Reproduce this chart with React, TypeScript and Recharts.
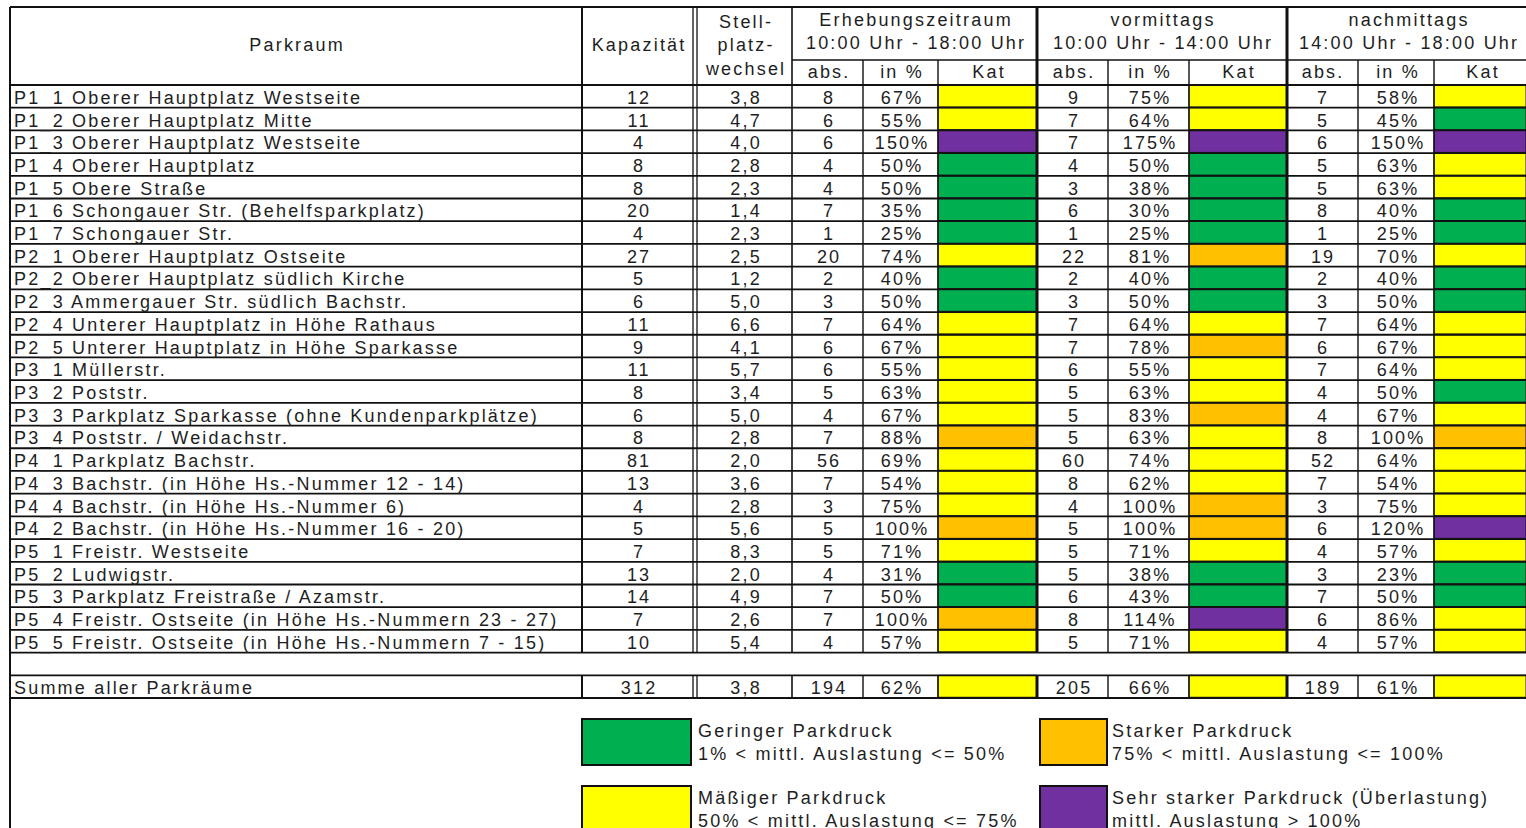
import React from 'react';
import { ComposedChart, Bar, XAxis, YAxis, Cell, Legend } from 'recharts';

const W = 1526;
const H = 828;
const FONT = '"Liberation Sans", Arial, Helvetica, sans-serif';
const FS = 18;
const LS = 2.2;
const INK = '#1e1e1e';
const LINE = '#111';

// ---------- data ----------
const parkraum = [
  'P1_1 Oberer Hauptplatz Westseite',
  'P1_2 Oberer Hauptplatz Mitte',
  'P1_3 Oberer Hauptplatz Westseite',
  'P1_4 Oberer Hauptplatz',
  'P1_5 Obere Straße',
  'P1_6 Schongauer Str. (Behelfsparkplatz)',
  'P1_7 Schongauer Str.',
  'P2_1 Oberer Hauptplatz Ostseite',
  'P2_2 Oberer Hauptplatz südlich Kirche',
  'P2_3 Ammergauer Str. südlich Bachstr.',
  'P2_4 Unterer Hauptplatz in Höhe Rathaus',
  'P2_5 Unterer Hauptplatz in Höhe Sparkasse',
  'P3_1 Müllerstr.',
  'P3_2 Poststr.',
  'P3_3 Parkplatz Sparkasse (ohne Kundenparkplätze)',
  'P3_4 Poststr. / Weidachstr.',
  'P4_1 Parkplatz Bachstr.',
  'P4_3 Bachstr. (in Höhe Hs.-Nummer 12 - 14)',
  'P4_4 Bachstr. (in Höhe Hs.-Nummer 6)',
  'P4_2 Bachstr. (in Höhe Hs.-Nummer 16 - 20)',
  'P5_1 Freistr. Westseite',
  'P5_2 Ludwigstr.',
  'P5_3 Parkplatz Freistraße / Azamstr.',
  'P5_4 Freistr. Ostseite (in Höhe Hs.-Nummern 23 - 27)',
  'P5_5 Freistr. Ostseite (in Höhe Hs.-Nummern 7 - 15)',
];
const kapazitaet = [12, 11, 4, 8, 8, 20, 4, 27, 5, 6, 11, 9, 11, 8, 6, 8, 81, 13, 4, 5, 7, 13, 14, 7, 10];
const stellplatzwechsel = ['3,8', '4,7', '4,0', '2,8', '2,3', '1,4', '2,3', '2,5', '1,2', '5,0', '6,6', '4,1', '5,7', '3,4', '5,0', '2,8', '2,0', '3,6', '2,8', '5,6', '8,3', '2,0', '4,9', '2,6', '5,4'];
const erhAbs = [8, 6, 6, 4, 4, 7, 1, 20, 2, 3, 7, 6, 6, 5, 4, 7, 56, 7, 3, 5, 5, 4, 7, 7, 4];
const erhPct = [67, 55, 150, 50, 50, 35, 25, 74, 40, 50, 64, 67, 55, 63, 67, 88, 69, 54, 75, 100, 71, 31, 50, 100, 57];
const erhKat = ['Y', 'Y', 'P', 'G', 'G', 'G', 'G', 'Y', 'G', 'G', 'Y', 'Y', 'Y', 'Y', 'Y', 'O', 'Y', 'Y', 'Y', 'O', 'Y', 'G', 'G', 'O', 'Y'];
const vorAbs = [9, 7, 7, 4, 3, 6, 1, 22, 2, 3, 7, 7, 6, 5, 5, 5, 60, 8, 4, 5, 5, 5, 6, 8, 5];
const vorPct = [75, 64, 175, 50, 38, 30, 25, 81, 40, 50, 64, 78, 55, 63, 83, 63, 74, 62, 100, 100, 71, 38, 43, 114, 71];
const vorKat = ['Y', 'Y', 'P', 'G', 'G', 'G', 'G', 'O', 'G', 'G', 'Y', 'O', 'Y', 'Y', 'O', 'Y', 'Y', 'Y', 'O', 'O', 'Y', 'G', 'G', 'P', 'Y'];
const nachAbs = [7, 5, 6, 5, 5, 8, 1, 19, 2, 3, 7, 6, 7, 4, 4, 8, 52, 7, 3, 6, 4, 3, 7, 6, 4];
const nachPct = [58, 45, 150, 63, 63, 40, 25, 70, 40, 50, 64, 67, 64, 50, 67, 100, 64, 54, 75, 120, 57, 23, 50, 86, 57];
const nachKat = ['Y', 'G', 'P', 'Y', 'Y', 'G', 'G', 'Y', 'G', 'G', 'Y', 'Y', 'Y', 'G', 'Y', 'O', 'Y', 'Y', 'Y', 'P', 'Y', 'G', 'G', 'Y', 'Y'];

const sumLabel = 'Summe aller Parkräume';
const sumValues = { kap: 312, spw: '3,8', eA: 194, eP: 62, eK: 'Y', vA: 205, vP: 66, vK: 'Y', nA: 189, nP: 61, nK: 'Y' };

const KAT_COLORS: Record<string, string> = { G: '#00B050', Y: '#FFFF00', O: '#FFC000', P: '#7030A0' };

const legendItems = [
  { kat: 'G', title: 'Geringer Parkdruck', desc: '1% < mittl. Auslastung <= 50%' },
  { kat: 'O', title: 'Starker Parkdruck', desc: '75% < mittl. Auslastung <= 100%' },
  { kat: 'Y', title: 'Mäßiger Parkdruck', desc: '50% < mittl. Auslastung <= 75%' },
  { kat: 'P', title: 'Sehr starker Parkdruck (Überlastung)', desc: 'mittl. Auslastung > 100%' },
];

// ---------- layout ----------
const TABLE_LEFT = 10;
const HEADER_TOP = 7;
const PLOT_TOP = 85;
const PLOT_BOTTOM = 698;
const COL = {
  kap: 638, spw: 745,
  eA: 828, eP: 901, vA: 1073, vP: 1149, nA: 1322, nP: 1397,
};
const KAT_SPAN: Record<string, [number, number]> = {
  e: [938, 1037],
  v: [1189, 1287],
  n: [1434, 1526],
};
// vertical rules in body rows: [x, width]
const BODY_VLINES: [number, number][] = [
  [TABLE_LEFT, 2], [582, 2], [693, 1.3], [697, 1.3], [792, 1.6], [863, 1.4], [938, 1.4],
  [1037, 3], [1108, 1.4], [1189, 1.4], [1287, 3], [1358, 1.4], [1434, 1.4],
];

type Row = {
  key: string; kind: 'data' | 'gap' | 'sum'; name: string;
  kap?: number; spw?: string;
  eA?: number; eP?: number; eK?: string;
  vA?: number; vP?: number; vK?: string;
  nA?: number; nP?: number; nK?: string;
};

const rows: Row[] = [
  ...parkraum.map((name, i) => ({
    key: 'r' + i, kind: 'data' as const, name,
    kap: kapazitaet[i], spw: stellplatzwechsel[i],
    eA: erhAbs[i], eP: erhPct[i], eK: erhKat[i],
    vA: vorAbs[i], vP: vorPct[i], vK: vorKat[i],
    nA: nachAbs[i], nP: nachPct[i], nK: nachKat[i],
  })),
  { key: 'gap', kind: 'gap', name: '' },
  { key: 'sum', kind: 'sum', name: sumLabel, ...sumValues },
];
const rowByKey: Record<string, Row> = {};
rows.forEach((r) => { rowByKey[r.key] = r; });
const BAND = (PLOT_BOTTOM - PLOT_TOP) / rows.length;

const textProps = {
  fontFamily: FONT,
  fontSize: FS,
  letterSpacing: LS,
  fill: INK,
};

// ---------- header ----------
type HeaderCell = { at: number; lines: [string, number][] };
const headerCells: HeaderCell[] = [
  { at: 296, lines: [['Parkraum', 51]] },
  { at: 638, lines: [['Kapazität', 51]] },
  { at: 745, lines: [['Stell-', 28], ['platz-', 51], ['wechsel', 75]] },
  { at: 915, lines: [['Erhebungszeitraum', 26], ['10:00 Uhr - 18:00 Uhr', 49]] },
  { at: 1162, lines: [['vormittags', 26], ['10:00 Uhr - 14:00 Uhr', 49]] },
  { at: 1408, lines: [['nachmittags', 26], ['14:00 Uhr - 18:00 Uhr', 49]] },
  { at: 828, lines: [['abs.', 78]] },
  { at: 901, lines: [['in %', 78]] },
  { at: 988, lines: [['Kat', 78]] },
  { at: 1073, lines: [['abs.', 78]] },
  { at: 1149, lines: [['in %', 78]] },
  { at: 1238, lines: [['Kat', 78]] },
  { at: 1322, lines: [['abs.', 78]] },
  { at: 1397, lines: [['in %', 78]] },
  { at: 1482, lines: [['Kat', 78]] },
];
const headerTicks = headerCells.map((c) => c.at);

function HeaderGrid() {
  const sub = 60;
  return (
    <g>
      <line x1={TABLE_LEFT} x2={W} y1={HEADER_TOP} y2={HEADER_TOP} stroke={LINE} strokeWidth={2} />
      <line x1={TABLE_LEFT} x2={W} y1={PLOT_TOP} y2={PLOT_TOP} stroke={LINE} strokeWidth={2} />
      <line x1={792} x2={W} y1={sub} y2={sub} stroke={LINE} strokeWidth={1.5} />
      <line x1={TABLE_LEFT} x2={TABLE_LEFT} y1={HEADER_TOP} y2={H} stroke={LINE} strokeWidth={2} />
      {[[582, 2], [693, 1.3], [697, 1.3], [792, 1.6], [1037, 3], [1287, 3]].map(([x, w]) => (
        <line key={'hv' + x} x1={x} x2={x} y1={HEADER_TOP} y2={PLOT_TOP} stroke={LINE} strokeWidth={w} />
      ))}
      {[863, 938, 1108, 1189, 1358, 1434].map((x) => (
        <line key={'hs' + x} x1={x} x2={x} y1={sub} y2={PLOT_TOP} stroke={LINE} strokeWidth={1.4} />
      ))}
    </g>
  );
}

function HeaderTick(props: any) {
  const { x, payload, index } = props;
  const cell = headerCells.find((c) => c.at === payload.value);
  if (!cell) return <g />;
  return (
    <g>
      {index === 0 ? <HeaderGrid /> : null}
      {cell.lines.map(([t, y], i) => (
        <text key={i} x={x + LS / 2} y={y} textAnchor="middle" {...textProps}>{t}</text>
      ))}
    </g>
  );
}

// ---------- body rows ----------
function RowTick(props: any) {
  const { y, payload } = props;
  const row = rowByKey[payload.value];
  if (!row) return <g />;
  const top = y - BAND / 2;
  const bottom = y + BAND / 2;
  const base = y + 7.5;
  const c = (v: any, cx: number, k: string) => (
    <text key={k} x={cx + LS / 2} y={base} textAnchor="middle" {...textProps}>{v}</text>
  );
  if (row.kind === 'gap') {
    return (
      <g>
        <line x1={TABLE_LEFT} x2={W} y1={bottom} y2={bottom} stroke={LINE} strokeWidth={1.8} />
      </g>
    );
  }
  return (
    <g>
      {BODY_VLINES.map(([x, w]) => (
        <line key={'v' + x} x1={x} x2={x} y1={top} y2={bottom} stroke={LINE} strokeWidth={w} />
      ))}
      <line x1={TABLE_LEFT} x2={W} y1={bottom} y2={bottom} stroke={LINE} strokeWidth={1.8} />
      <text x={14} y={base} textAnchor="start" {...textProps}>{row.name}</text>
      {c(row.kap, COL.kap, 'kap')}
      {c(row.spw, COL.spw, 'spw')}
      {c(row.eA, COL.eA, 'eA')}
      {c(row.eP + '%', COL.eP, 'eP')}
      {c(row.vA, COL.vA, 'vA')}
      {c(row.vP + '%', COL.vP, 'vP')}
      {c(row.nA, COL.nA, 'nA')}
      {c(row.nP + '%', COL.nP, 'nP')}
    </g>
  );
}

// ---------- legend ----------
const LEG_BOX_LEFT = [581, 1039];
const LEG_BOX_W = [111, 69];
const LEG_TEXT_LEFT = [698, 1112];
const LEG_TOP = [718, 785];

function LegendBlock() {
  const txt: React.CSSProperties = {
    position: 'absolute', fontFamily: FONT, fontSize: FS, letterSpacing: LS, color: INK,
    lineHeight: '24px', whiteSpace: 'nowrap',
  };
  return (
    <div style={{ position: 'relative', width: W, height: 0 }}>
      {legendItems.map((it, i) => {
        const col = i % 2;
        const r = Math.floor(i / 2);
        return (
          <React.Fragment key={it.kat}>
            <div style={{
              position: 'absolute', left: LEG_BOX_LEFT[col], top: LEG_TOP[r], width: LEG_BOX_W[col], height: 48,
              background: KAT_COLORS[it.kat], border: '2px solid #111', boxSizing: 'border-box',
            }} />
            <div style={{ ...txt, left: LEG_TEXT_LEFT[col], top: LEG_TOP[r] + 1 }}>{it.title}</div>
            <div style={{ ...txt, left: LEG_TEXT_LEFT[col], top: LEG_TOP[r] + 24 }}>{it.desc}</div>
          </React.Fragment>
        );
      })}
    </div>
  );
}

const katKey = (field: 'eK' | 'vK' | 'nK', span: string) => (d: Row) => (d[field] ? KAT_SPAN[span] : null);

export default function App() {
  return (
    <div style={{ position: 'absolute', left: 0, top: 0, width: W, height: H, overflow: 'hidden', background: '#fff' }}>
      <ComposedChart
        width={W}
        height={H}
        layout="vertical"
        data={rows}
        margin={{ top: HEADER_TOP, right: 0, bottom: H - PLOT_BOTTOM, left: -1 }}
        barGap={-22}
        barCategoryGap={0}
      >
        <XAxis
          type="number"
          orientation="top"
          domain={[0, W]}
          allowDataOverflow
          height={PLOT_TOP - HEADER_TOP}
          ticks={headerTicks}
          interval={0}
          axisLine={false}
          tickLine={false}
          tick={(p: any) => <HeaderTick {...p} />}
        />
        <YAxis
          type="category"
          dataKey="key"
          width={1}
          interval={0}
          axisLine={false}
          tickLine={false}
          tick={(p: any) => <RowTick {...p} />}
        />
        <Bar dataKey={katKey('eK', 'e')} barSize={22} isAnimationActive={false} stroke="#111" strokeWidth={1}>
          {rows.map((r) => <Cell key={r.key} fill={r.eK ? KAT_COLORS[r.eK] : 'none'} />)}
        </Bar>
        <Bar dataKey={katKey('vK', 'v')} barSize={22} isAnimationActive={false} stroke="#111" strokeWidth={1}>
          {rows.map((r) => <Cell key={r.key} fill={r.vK ? KAT_COLORS[r.vK] : 'none'} />)}
        </Bar>
        <Bar dataKey={katKey('nK', 'n')} barSize={22} isAnimationActive={false} stroke="#111" strokeWidth={1}>
          {rows.map((r) => <Cell key={r.key} fill={r.nK ? KAT_COLORS[r.nK] : 'none'} />)}
        </Bar>
        <Legend
          verticalAlign="top"
          align="left"
          wrapperStyle={{ position: 'absolute', top: 0, left: 0, bottom: 'auto', width: W, height: 0, overflow: 'visible' }}
          content={() => <LegendBlock />}
        />
      </ComposedChart>
    </div>
  );
}
